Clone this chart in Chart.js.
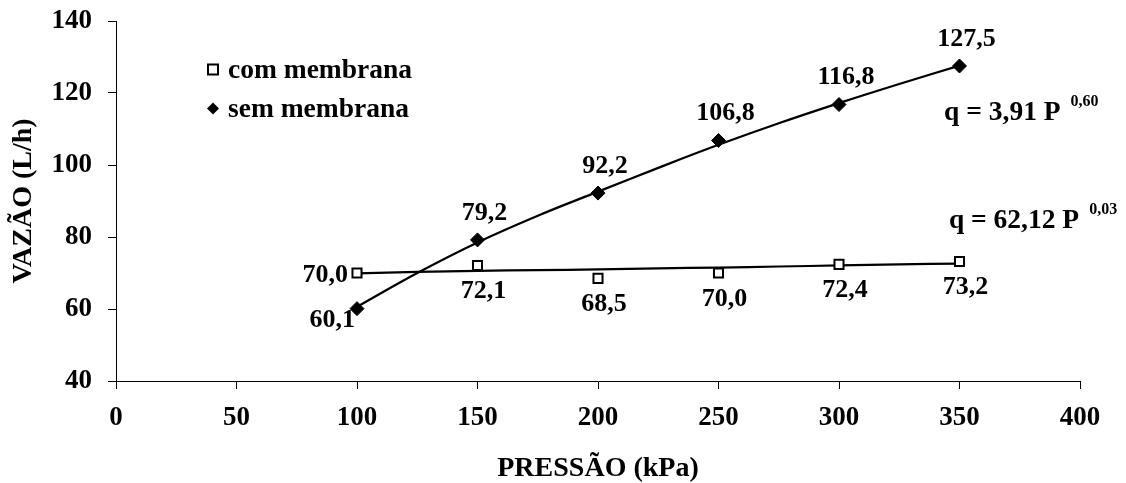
<!DOCTYPE html>
<html><head><meta charset="utf-8">
<script src="https://cdn.jsdelivr.net/npm/chart.js@4"></script>
<style>html,body{margin:0;padding:0;background:#fff;overflow:hidden}</style>
</head><body>
<canvas id="c" width="1126" height="483" style="display:block;width:1126px;height:483px"></canvas>
<script>
// ---- data ----
const pressures   = [100, 150, 200, 250, 300, 350];
const comMembrana = [70.0, 72.1, 68.5, 70.0, 72.4, 73.2];
const semMembrana = [60.1, 79.2, 92.2, 106.8, 116.8, 127.5];
// trend lines
const trendX   = [100, 125, 150, 175, 200, 225, 250, 275, 300, 325, 350];
const comTrend = [69.9, 70.3, 70.6, 70.8, 71.0, 71.3, 71.5, 71.8, 72.1, 72.4, 72.6];
const semTrend = [60.6, 70.0, 78.5, 85.9, 92.6, 99.2, 105.6, 111.6, 117.2, 122.5, 127.6];
const xTickValues = [0, 50, 100, 150, 200, 250, 300, 350, 400];
const yTickValues = [40, 60, 80, 100, 120, 140];
const seriesNames = ['com membrana', 'sem membrana'];
const equationText = ['q = 3,91 P', 'q = 62,12 P'];
const equationExp  = ['0,60', '0,03'];
const xTitle = 'PRESSÃO (kPa)';
const yTitle = 'VAZÃO (L/h)';

const FONT = '"Liberation Serif", "Times New Roman", serif';
const fmt = v => v.toFixed(1).replace('.', ',');
const toPts = (xs, ys) => xs.map((x, i) => ({x: x, y: ys[i]}));

function drawSquare(ctx, x, y, s) {
  ctx.save();
  ctx.fillStyle = '#fff'; ctx.strokeStyle = '#000'; ctx.lineWidth = 2;
  ctx.beginPath(); ctx.rect(x - s / 2, y - s / 2, s, s); ctx.fill(); ctx.stroke();
  ctx.restore();
}
function drawDiamond(ctx, x, y, r) {
  ctx.save();
  ctx.fillStyle = '#000';
  ctx.beginPath(); ctx.moveTo(x, y - r); ctx.lineTo(x + r, y); ctx.lineTo(x, y + r); ctx.lineTo(x - r, y); ctx.closePath(); ctx.fill();
  ctx.restore();
}

const annotations = {
  id: 'annotations',
  afterDatasetsDraw(chart) {
    const ctx = chart.ctx;
    const xs = chart.scales.x, ys = chart.scales.y;
    ctx.save();
    ctx.fillStyle = '#000';
    ctx.font = 'bold 26px ' + FONT;
    ctx.textBaseline = 'middle';
    // com membrana labels
    const comMeta = chart.getDatasetMeta(0);
    comMeta.data.forEach((pt, i) => {
      if (i === 0) { ctx.textAlign = 'right'; ctx.fillText(fmt(comMembrana[i]), pt.x - 9, pt.y + 2); }
      else { ctx.textAlign = 'center'; ctx.fillText(fmt(comMembrana[i]), pt.x + 6, pt.y + 26); }
    });
    // sem membrana labels
    const semMeta = chart.getDatasetMeta(1);
    semMeta.data.forEach((pt, i) => {
      if (i === 0) { ctx.textAlign = 'right'; ctx.fillText(fmt(semMembrana[i]), pt.x - 2, pt.y + 12); }
      else { ctx.textAlign = 'center'; ctx.fillText(fmt(semMembrana[i]), pt.x + 7, pt.y - 27); }
    });
    // equations
    ctx.textAlign = 'left'; ctx.textBaseline = 'alphabetic';
    const eqPos = [[343.6, 112.5], [345.6, 82.5]];
    eqPos.forEach((p, i) => {
      const px = xs.getPixelForValue(p[0]), py = ys.getPixelForValue(p[1]);
      ctx.font = 'bold 27.5px ' + FONT;
      ctx.fillText(equationText[i], px, py);
      const w = ctx.measureText(equationText[i]).width;
      ctx.font = 'bold 16px ' + FONT;
      ctx.fillText(equationExp[i], px + w + 10, py - 14);
    });
    // legend
    ctx.font = 'bold 27.5px ' + FONT;
    ctx.textBaseline = 'middle';
    const lx = xs.left + 97, ly = ys.getPixelForValue(126.5);
    drawSquare(ctx, lx, ly, 10);
    ctx.fillText(seriesNames[0], lx + 15, ly + 1);
    drawDiamond(ctx, lx, ly + 39, 6);
    ctx.fillText(seriesNames[1], lx + 15, ly + 40);
    ctx.restore();
  }
};

const axisCommon = {
  type: 'linear',
  grid: { drawOnChartArea: false, drawTicks: true, tickLength: 8, color: '#000', lineWidth: 1 },
  border: { color: '#000', width: 1 },
};

new Chart(document.getElementById('c'), {
  type: 'scatter',
  data: {
    datasets: [
      { label: seriesNames[0], data: toPts(pressures, comMembrana), showLine: false,
        pointStyle: 'rect', pointRadius: 6.4, pointHoverRadius: 6.4, pointBackgroundColor: '#fff',
        pointBorderColor: '#000', pointBorderWidth: 2, order: 0 },
      { label: seriesNames[1], data: toPts(pressures, semMembrana), showLine: false,
        pointStyle: 'rectRot', pointRadius: 7, pointHoverRadius: 7, pointBackgroundColor: '#000',
        pointBorderColor: '#000', pointBorderWidth: 1, order: 0 },
      { label: 'trend com', data: toPts(trendX, comTrend), showLine: true, pointRadius: 0,
        borderColor: '#000', borderWidth: 2.2, tension: 0.4, order: 1 },
      { label: 'trend sem', data: toPts(trendX, semTrend), showLine: true, pointRadius: 0,
        borderColor: '#000', borderWidth: 2.2, tension: 0.4, order: 1 }
    ]
  },
  options: {
    responsive: false,
    animation: false,
    devicePixelRatio: 1,
    layout: { padding: { top: 21, right: 46, left: 0, bottom: 0 } },
    plugins: { legend: { display: false }, tooltip: { enabled: false } },
    scales: {
      x: Object.assign({}, axisCommon, {
        min: 0, max: 400,
        afterBuildTicks: s => { s.ticks = xTickValues.map(v => ({value: v})); },
        ticks: { color: '#000', font: { family: FONT, size: 27, weight: 'bold' }, padding: 13, maxRotation: 0 },
        title: { display: true, text: xTitle, color: '#000', font: { family: FONT, size: 28, weight: 'bold', lineHeight: 1.0 }, padding: 0 },
        afterFit: s => { s.height = 102; s.paddingLeft = 0; s.paddingRight = 0; }
      }),
      y: Object.assign({}, axisCommon, {
        min: 40, max: 140,
        afterBuildTicks: s => { s.ticks = yTickValues.map(v => ({value: v})); },
        ticks: { color: '#000', font: { family: FONT, size: 27, weight: 'bold' }, padding: 16 },
        title: { display: true, text: yTitle, color: '#000', font: { family: FONT, size: 28, weight: 'bold', lineHeight: 1.0 }, padding: { top: 10, bottom: 0 } },
        afterFit: s => { s.width = 116; s.paddingTop = 0; s.paddingBottom = 0; }
      })
    }
  },
  plugins: [annotations]
});
</script>
</body></html>
